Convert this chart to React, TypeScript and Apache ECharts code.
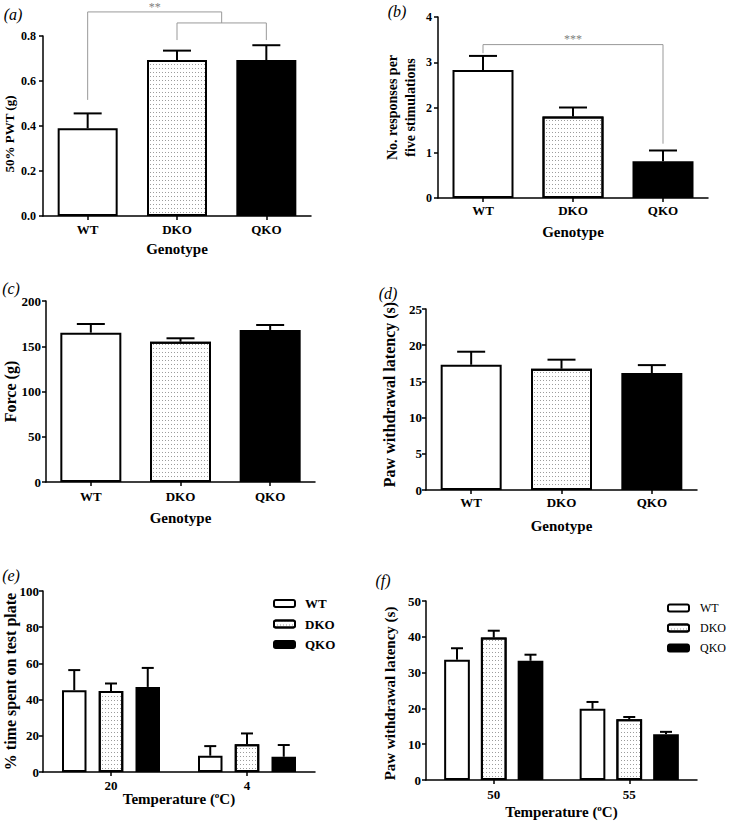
import React, { useEffect, useRef } from 'react';
import * as echarts from 'echarts';

const FONT = "'Liberation Serif', 'Times New Roman', 'DejaVu Serif', serif";

// Panels (a)-(d)
const genotypes = ['WT', 'DKO', 'QKO'];
const pwtMean = [0.39, 0.693, 0.693];
const pwtSem = [0.066, 0.042, 0.066];
const responsesMean = [2.83, 1.8, 0.81];
const responsesSem = [0.31, 0.2, 0.24];
const forceMean = [165, 155, 168];
const forceSem = [9.6, 3.8, 5.5];
const latencyMean = [17.3, 16.75, 16.15];
const latencySem = [1.8, 1.25, 1.1];

// Panel (e) cold plate
const coldTemps = ['20', '4'];
const coldWT = [45.2, 9.0];
const coldWTSem = [11.1, 5.3];
const coldDKO = [44.7, 15.3];
const coldDKOSem = [4.2, 6.0];
const coldQKO = [47.0, 8.4];
const coldQKOSem = [10.5, 6.5];

// Panel (f) hot plate
const hotTemps = ['50', '55'];
const hotWT = [33.6, 19.9];
const hotWTSem = [3.2, 1.9];
const hotDKO = [39.8, 17.0];
const hotDKOSem = [1.9, 0.6];
const hotQKO = [33.3, 12.8];
const hotQKOSem = [1.7, 0.65];

// y tick labels
const ticksA = [0, 0.2, 0.4, 0.6, 0.8];
const ticksB = [0, 1, 2, 3, 4];
const ticksC = [0, 50, 100, 150, 200];
const ticksD = [0, 5, 10, 15, 20, 25];
const ticksE = [0, 20, 40, 60, 80, 100];
const ticksF = [0, 10, 20, 30, 40, 50];

const fills = ['#ffffff', '#ffffff', '#000000'];

const dotDecal = () => ({
  symbol: 'rect',
  symbolSize: 1,
  dashArrayX: [1, 2],
  dashArrayY: [1, 3],
  color: '#9c9c9c',
  rotation: 0,
});

function genoData(values: number[]) {
  return values.map((v, i) => ({
    value: v,
    itemStyle: i === 1 ? { color: fills[i], decal: dotDecal() } : { color: fills[i] },
  }));
}

function errorSeries(idx: number, means: number[], sems: number[], offset: number, capHalf: number, name: string) {
  return {
    type: 'custom',
    name,
    xAxisIndex: idx,
    yAxisIndex: idx,
    silent: true,
    clip: false,
    z: 3,
    itemStyle: { color: '#000' },
    encode: { x: 0, y: 1 },
    data: means.map((m, i) => [i, m, sems[i]]),
    renderItem: (params: any, api: any) => {
      const c = api.value(0);
      const m = api.value(1);
      const s = api.value(2);
      const base = api.coord([c, m]);
      const top = api.coord([c, m + s]);
      const x = base[0] + offset;
      const st = { stroke: '#000', lineWidth: 2 };
      return {
        type: 'group',
        children: [
          { type: 'line', shape: { x1: x, y1: base[1], x2: x, y2: top[1] }, style: st },
          { type: 'line', shape: { x1: x - capHalf, y1: top[1], x2: x + capHalf, y2: top[1] }, style: st },
        ],
      };
    },
  };
}

function xAxisCfg(idx: number, cats: string[], name: string, nameGap: number, labelMargin: number, nameSize: number, rich?: any) {
  return {
    type: 'category',
    gridIndex: idx,
    data: cats,
    axisLine: { show: true, lineStyle: { color: '#000', width: 1.5 } },
    axisTick: { show: true, alignWithLabel: true, length: 4, lineStyle: { color: '#000', width: 1.5 } },
    axisLabel: { color: '#000', fontFamily: FONT, fontWeight: 'bold', fontSize: 13, margin: labelMargin },
    splitLine: { show: false },
    name,
    nameLocation: 'middle',
    nameGap,
    nameMoveOverlap: false,
    nameTextStyle: {
      color: '#000',
      fontFamily: FONT,
      fontWeight: 'bold',
      fontSize: nameSize,
      lineHeight: 18,
      rich,
    },
  };
}

function yAxisCfg(idx: number, ticks: number[], name: string, nameGap: number, nameSize: number, labelSize: number, labelMargin: number, decimals: number, lineHeight?: number, namePadding?: number[]) {
  return {
    type: 'value',
    gridIndex: idx,
    min: ticks[0],
    max: ticks[ticks.length - 1],
    interval: ticks[1] - ticks[0],
    axisLine: { show: true, lineStyle: { color: '#000', width: 1.5 } },
    axisTick: { show: true, length: 4, lineStyle: { color: '#000', width: 1.5 } },
    axisLabel: {
      color: '#000',
      fontFamily: FONT,
      fontWeight: 'bold',
      fontSize: labelSize,
      margin: labelMargin,
      formatter: (v: number) => v.toFixed(decimals),
    },
    splitLine: { show: false },
    name,
    nameLocation: 'middle',
    nameGap,
    nameMoveOverlap: false,
    nameTextStyle: {
      color: '#000',
      fontFamily: FONT,
      fontWeight: 'bold',
      fontSize: nameSize,
      lineHeight: lineHeight || nameSize + 2,
      padding: namePadding || [0, 0, 0, 0],
    },
  };
}

function genoBars(idx: number, values: number[], width: number, name: string) {
  return {
    type: 'bar',
    name,
    xAxisIndex: idx,
    yAxisIndex: idx,
    barWidth: width,
    silent: true,
    data: genoData(values),
    itemStyle: { borderColor: '#000', borderWidth: 2 },
  };
}

function groupBars(idx: number, name: string, values: number[], fillIdx: number, width: number, gap: string) {
  const itemStyle: any = { color: fills[fillIdx], borderColor: '#000', borderWidth: 2 };
  if (fillIdx === 1) itemStyle.decal = dotDecal();
  return {
    type: 'bar',
    name,
    xAxisIndex: idx,
    yAxisIndex: idx,
    barWidth: width,
    barGap: gap,
    silent: true,
    data: values,
    itemStyle,
  };
}

const GRAY = '#999999';
const bracketStyle = { stroke: GRAY, lineWidth: 1, fill: 'none' };
const starStyle = (text: string) => ({
  text,
  fill: '#808080',
  font: `12px ${FONT}`,
  align: 'center',
  verticalAlign: 'middle',
});

const bracketA = {
  type: 'custom',
  name: 'sig-a',
  xAxisIndex: 0,
  yAxisIndex: 0,
  silent: true,
  clip: false,
  itemStyle: { color: '#808080' },
  data: [[0, 0]],
  renderItem: (params: any, api: any) => {
    const p = (c: number, v: number) => api.coord([c, v]);
    const wt = p(0, 0.516);
    const wtTop = p(0, 0.907);
    const d = p(1, 0.782);
    const dTop = p(1, 0.858);
    const q = p(2, 0.782);
    const midX = (d[0] + q[0]) / 2;
    const star = p(0, 0.93);
    return {
      type: 'group',
      children: [
        { type: 'polyline', shape: { points: [[wt[0], wt[1]], [wt[0], wtTop[1]], [midX, wtTop[1]], [midX, dTop[1]]] }, style: bracketStyle },
        { type: 'polyline', shape: { points: [[d[0], d[1]], [d[0], dTop[1]], [q[0], dTop[1]], [q[0], q[1]]] }, style: bracketStyle },
        { type: 'text', x: (wt[0] + midX) / 2, y: star[1], style: starStyle('**') },
      ],
    };
  },
};

const bracketB = {
  type: 'custom',
  name: 'sig-b',
  xAxisIndex: 1,
  yAxisIndex: 1,
  silent: true,
  clip: false,
  itemStyle: { color: '#808080' },
  data: [[0, 0]],
  renderItem: (params: any, api: any) => {
    const p = (c: number, v: number) => api.coord([c, v]);
    const l = p(0, 3.2);
    const top = p(0, 3.39);
    const r = p(2, 1.2);
    const star = p(0, 3.52);
    return {
      type: 'group',
      children: [
        { type: 'polyline', shape: { points: [[l[0], l[1]], [l[0], top[1]], [r[0], top[1]], [r[0], r[1]]] }, style: bracketStyle },
        { type: 'text', x: (l[0] + r[0]) / 2, y: star[1], style: starStyle('***') },
      ],
    };
  },
};

const tempRich = {
  sup: { fontFamily: FONT, fontWeight: 'bold', fontSize: 9, verticalAlign: 'top', lineHeight: 18 },
};

const panelLabel = (text: string, x: number, y: number) => ({
  type: 'text',
  x,
  y,
  style: { text, font: `italic 16px ${FONT}`, fill: '#000', align: 'center', verticalAlign: 'middle' },
});

export default function App() {
  const ref = useRef<HTMLDivElement>(null);

  useEffect(() => {
    document.body.style.margin = '0';
    if (!ref.current) return;
    const chart = echarts.init(ref.current, undefined, { renderer: 'svg' });
    const stepE = 24.5 * 1.5;
    const stepF = 25.7 * 1.43;
    chart.setOption({
      animation: false,
      backgroundColor: '#fff',
      textStyle: { fontFamily: FONT },
      grid: [
        { left: 43, top: 36, width: 268, height: 180 },
        { left: 438, top: 17, width: 270, height: 181 },
        { left: 44, top: 301, width: 271, height: 181 },
        { left: 426, top: 309, width: 271, height: 181 },
        { left: 41, top: 591, width: 274, height: 181 },
        { left: 426, top: 601, width: 271, height: 180 },
      ],
      xAxis: [
        xAxisCfg(0, genotypes, 'Genotype', 24, 7, 15),
        xAxisCfg(1, genotypes, 'Genotype', 25, 6, 15),
        xAxisCfg(2, genotypes, 'Genotype', 27, 8, 15),
        xAxisCfg(3, genotypes, 'Genotype', 27, 6, 15),
        xAxisCfg(4, coldTemps, 'Temperature ({sup|o}C)', 18, 7, 15, tempRich),
        xAxisCfg(5, hotTemps, 'Temperature ({sup|o}C)', 23, 8, 15, tempRich),
      ],
      yAxis: [
        yAxisCfg(0, ticksA, '50% PWT (g)', 26, 13, 12, 7, 1, undefined, [0, 16, 0, 0]),
        yAxisCfg(1, ticksB, 'No. responses per\nfive stimulations', 19, 14, 12, 6, 0, 18),
        yAxisCfg(2, ticksC, 'Force (g)', 27, 16, 13, 5, 0),
        yAxisCfg(3, ticksD, 'Paw withdrawal latency (s)', 28, 16, 13, 4, 0, undefined, [0, 0, 0, 10]),
        yAxisCfg(4, ticksE, '% time spent on test plate', 24, 16, 13, 4, 0),
        yAxisCfg(5, ticksF, 'Paw withdrawal latency (s)', 28, 15, 13, 5, 0, undefined, [0, 6, 0, 0]),
      ],
      legend: [
        {
          data: genotypes,
          orient: 'vertical',
          left: 273,
          top: 597,
          padding: 0,
          itemWidth: 21,
          itemHeight: 7,
          itemGap: 7.5,
          icon: 'roundRect',
          selectedMode: false,
          itemStyle: { borderColor: '#000', borderWidth: 2 },
          textStyle: { fontFamily: FONT, fontWeight: 'bold', fontSize: 13, color: '#000', padding: [0, 0, 0, 5] },
        },
        {
          data: genotypes,
          orient: 'vertical',
          left: 667,
          top: 602,
          padding: 0,
          itemWidth: 21,
          itemHeight: 7,
          itemGap: 8,
          icon: 'roundRect',
          selectedMode: false,
          itemStyle: { borderColor: '#000', borderWidth: 2 },
          textStyle: { fontFamily: FONT, fontWeight: 'normal', fontSize: 12, color: '#000', padding: [0, 0, 0, 6] },
        },
      ],
      graphic: [
        panelLabel('(a)', 13, 14),
        panelLabel('(b)', 397, 11),
        panelLabel('(c)', 11, 288),
        panelLabel('(d)', 388, 293),
        panelLabel('(e)', 11, 575),
        panelLabel('(f)', 383, 580),
      ],
      series: [
        genoBars(0, pwtMean, 60, 'bars-a'),
        errorSeries(0, pwtMean, pwtSem, 0, 14, 'err-a'),
        bracketA,
        genoBars(1, responsesMean, 61, 'bars-b'),
        errorSeries(1, responsesMean, responsesSem, 0, 14, 'err-b'),
        bracketB,
        genoBars(2, forceMean, 61, 'bars-c'),
        errorSeries(2, forceMean, forceSem, 0, 14, 'err-c'),
        genoBars(3, latencyMean, 61, 'bars-d'),
        errorSeries(3, latencyMean, latencySem, 0, 14, 'err-d'),

        groupBars(4, 'WT', coldWT, 0, 24.5, '50%'),
        groupBars(4, 'DKO', coldDKO, 1, 24.5, '50%'),
        groupBars(4, 'QKO', coldQKO, 2, 24.5, '50%'),
        errorSeries(4, coldWT, coldWTSem, -stepE, 6, 'err-e-wt'),
        errorSeries(4, coldDKO, coldDKOSem, 0, 6, 'err-e-dko'),
        errorSeries(4, coldQKO, coldQKOSem, stepE, 6, 'err-e-qko'),

        groupBars(5, 'WT', hotWT, 0, 25.7, '43%'),
        groupBars(5, 'DKO', hotDKO, 1, 25.7, '43%'),
        groupBars(5, 'QKO', hotQKO, 2, 25.7, '43%'),
        errorSeries(5, hotWT, hotWTSem, -stepF, 6, 'err-f-wt'),
        errorSeries(5, hotDKO, hotDKOSem, 0, 6, 'err-f-dko'),
        errorSeries(5, hotQKO, hotQKOSem, stepF, 6, 'err-f-qko'),
      ],
    });
    return () => chart.dispose();
  }, []);

  return <div ref={ref} style={{ width: 729, height: 822 }} />;
}
